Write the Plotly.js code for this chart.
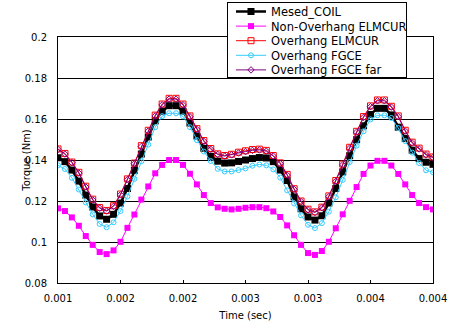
<!DOCTYPE html>
<html>
<head>
<meta charset="utf-8">
<script src="https://cdn.plot.ly/plotly-3.0.1.min.js"></script>
<style>html,body{margin:0;padding:0;background:#fff;}#chart{width:449px;height:335px;}</style>
</head>
<body>
<div id="chart"></div>
<script>
var time = [0.001,0.0010556,0.0011111,0.0011667,0.0012222,0.0012778,0.0013333,0.0013889,0.0014444,0.0015,
0.0015556,0.0016111,0.0016667,0.0017222,0.0017778,0.0018333,0.0018889,0.0019444,0.002,0.0020556,
0.0021111,0.0021667,0.0022222,0.0022778,0.0023333,0.0023889,0.0024444,0.0025,0.0025556,0.0026111,
0.0026667,0.0027222,0.0027778,0.0028333,0.0028889,0.0029444,0.003,0.0030556,0.0031111,0.0031667,
0.0032222,0.0032778,0.0033333,0.0033889,0.0034444,0.0035,0.0035556,0.0036111,0.0036667,0.0037222,
0.0037778,0.0038333,0.0038889,0.0039444,0.004];

var mesedCoil = [0.1411,0.1392,0.1351,0.1297,0.1229,0.1171,0.1127,0.1111,0.1135,0.1190,
0.1261,0.1350,0.1429,0.1512,0.1591,0.1638,0.1665,0.1665,0.1638,0.1580,
0.1517,0.1457,0.1418,0.1394,0.1385,0.1386,0.1393,0.1400,0.1407,0.1412,
0.1410,0.1392,0.1351,0.1300,0.1220,0.1162,0.1122,0.1107,0.1128,0.1190,
0.1261,0.1342,0.1421,0.1499,0.1567,0.1622,0.1652,0.1652,0.1620,0.1560,
0.1505,0.1448,0.1407,0.1389,0.1379];

var nonOverhangElmcur = [0.1164,0.1151,0.1120,0.1079,0.1029,0.0986,0.0951,0.0941,0.0959,0.1001,
0.1069,0.1134,0.1207,0.1271,0.1335,0.1376,0.1400,0.1400,0.1376,0.1333,
0.1281,0.1229,0.1190,0.1169,0.1162,0.1159,0.1162,0.1167,0.1170,0.1170,
0.1165,0.1149,0.1122,0.1081,0.1033,0.0986,0.0946,0.0937,0.0956,0.1001,
0.1067,0.1135,0.1201,0.1268,0.1332,0.1373,0.1396,0.1396,0.1373,0.1332,
0.1281,0.1229,0.1190,0.1170,0.1159];

var overhangElmcur = [0.1454,0.1432,0.1390,0.1340,0.1272,0.1209,0.1168,0.1154,0.1177,0.1234,
0.1308,0.1385,0.1470,0.1545,0.1619,0.1673,0.1701,0.1701,0.1673,0.1615,
0.1553,0.1495,0.1456,0.1430,0.1422,0.1428,0.1438,0.1445,0.1451,0.1453,
0.1447,0.1422,0.1386,0.1330,0.1260,0.1200,0.1160,0.1147,0.1170,0.1225,
0.1300,0.1380,0.1462,0.1540,0.1612,0.1664,0.1693,0.1693,0.1662,0.1615,
0.1545,0.1487,0.1458,0.1429,0.1415];

var overhangFgce = [0.1374,0.1356,0.1313,0.1256,0.1193,0.1135,0.1088,0.1072,0.1096,0.1151,
0.1222,0.1308,0.1394,0.1475,0.1560,0.1614,0.1628,0.1628,0.1613,0.1560,
0.1497,0.1441,0.1395,0.1357,0.1344,0.1344,0.1351,0.1359,0.1372,0.1378,
0.1374,0.1354,0.1314,0.1252,0.1188,0.1130,0.1084,0.1068,0.1092,0.1148,
0.1218,0.1303,0.1390,0.1470,0.1540,0.1598,0.1618,0.1618,0.1605,0.1556,
0.1492,0.1436,0.1385,0.1350,0.1340];

var overhangFgceFar = [0.1451,0.1429,0.1387,0.1336,0.1268,0.1205,0.1165,0.1151,0.1174,0.1230,
0.1304,0.1382,0.1466,0.1541,0.1615,0.1669,0.1697,0.1697,0.1669,0.1611,
0.1549,0.1491,0.1452,0.1427,0.1419,0.1425,0.1434,0.1441,0.1447,0.1449,
0.1443,0.1419,0.1382,0.1326,0.1257,0.1197,0.1157,0.1144,0.1167,0.1221,
0.1296,0.1376,0.1458,0.1536,0.1608,0.1660,0.1689,0.1689,0.1658,0.1611,
0.1541,0.1483,0.1454,0.1425,0.1412];

var seriesNames = ['Mesed_COIL','Non-Overhang ELMCUR','Overhang ELMCUR','Overhang FGCE','Overhang FGCE far'];
var xTickVals = [0.001,0.0015,0.002,0.0025,0.003,0.0035,0.004];
var xTickText = ['0.001','0.002','0.002','0.003','0.003','0.004','0.004'];
var yTickVals = [0.08,0.1,0.12,0.14,0.16,0.18,0.2];
var yTickText = ['0.08','0.1','0.12','0.14','0.16','0.18','0.2'];

var F = 'DejaVu Sans, sans-serif';
var traces = [
  {x: time, y: mesedCoil, name: seriesNames[0], mode: 'lines+markers',
   line: {color: '#000000', width: 2.5}, marker: {symbol: 'square', size: 7, color: '#000000'}},
  {x: time, y: nonOverhangElmcur, name: seriesNames[1], mode: 'lines+markers',
   line: {color: '#FF00FF', width: 1}, marker: {symbol: 'square', size: 6, color: '#FF00FF'}},
  {x: time, y: overhangElmcur, name: seriesNames[2], mode: 'lines+markers',
   line: {color: '#FF0000', width: 1}, marker: {symbol: 'square-open', size: 6, color: '#FF0000', line: {width: 1}}},
  {x: time, y: overhangFgce, name: seriesNames[3], mode: 'lines+markers',
   line: {color: '#33CCFF', width: 1}, marker: {symbol: 'circle-open', size: 5, color: '#33CCFF', line: {width: 1}}},
  {x: time, y: overhangFgceFar, name: seriesNames[4], mode: 'lines+markers',
   line: {color: '#800080', width: 1}, marker: {symbol: 'diamond-open', size: 5, color: '#800080', line: {width: 1}}}
];

var layout = {
  width: 449, height: 335,
  margin: {l: 58, r: 16, t: 28, b: 52, pad: 0},
  paper_bgcolor: '#ffffff', plot_bgcolor: '#ffffff',
  font: {family: F, size: 10, color: '#000000'},
  showlegend: true,
  legend: {x: 0.4507, y: 1.102, xanchor: 'left', yanchor: 'top',
    bgcolor: '#ffffff', bordercolor: '#000000', borderwidth: 1,
    font: {family: F, size: 11.5, color: '#000000'}, tracegroupgap: 0, itemwidth: 30},
  xaxis: {range: [0.001, 0.004], tickmode: 'array', tickvals: xTickVals, ticktext: xTickText,
    ticks: 'inside', ticklen: 3, tickcolor: '#000000', showgrid: false, zeroline: false,
    showline: true, linecolor: '#000000', linewidth: 1, mirror: true,
    tickfont: {family: F, size: 10}, ticklabelstandoff: 6,
    title: {text: 'Time (sec)', font: {family: F, size: 10}, standoff: 8}},
  yaxis: {range: [0.08, 0.2], tickmode: 'array', tickvals: yTickVals, ticktext: yTickText,
    ticks: '', showgrid: true, gridcolor: '#000000', gridwidth: 1, zeroline: false,
    showline: true, linecolor: '#000000', linewidth: 1, mirror: true,
    tickfont: {family: F, size: 10}, ticklabelstandoff: 8,
    title: {text: 'Torque (Nm)', font: {family: F, size: 10}, standoff: 0}}
};

Plotly.newPlot('chart', traces, layout, {displayModeBar: false, staticPlot: true}).then(function(gd){
  // compact the legend rows to match the reference spacing
  var leg = gd.querySelector('g.legend');
  if (leg) {
    leg.setAttribute('transform', 'translate(227,2)');
    var items = leg.querySelectorAll('g.traces');
    items.forEach(function(g, i){
      g.setAttribute('transform', 'translate(4,' + (9.5 + i * 14.6) + ')');
    });
    var bg = leg.querySelector('rect.bg');
    if (bg) { bg.setAttribute('width', 179); bg.setAttribute('height', 75); bg.setAttribute('x', 0.5); bg.setAttribute('y', 0.5); }
    var clip = gd.querySelector('clipPath[id^="legend"] rect');
    if (clip) { clip.setAttribute('height', 80); clip.setAttribute('width', 185); }
  }
  // nudge the y-axis title closer to the tick labels, as in the reference
  var yt = gd.querySelector('g.g-ytitle');
  if (yt) yt.setAttribute('transform', 'translate(8,0)');
});
</script>
</body>
</html>
